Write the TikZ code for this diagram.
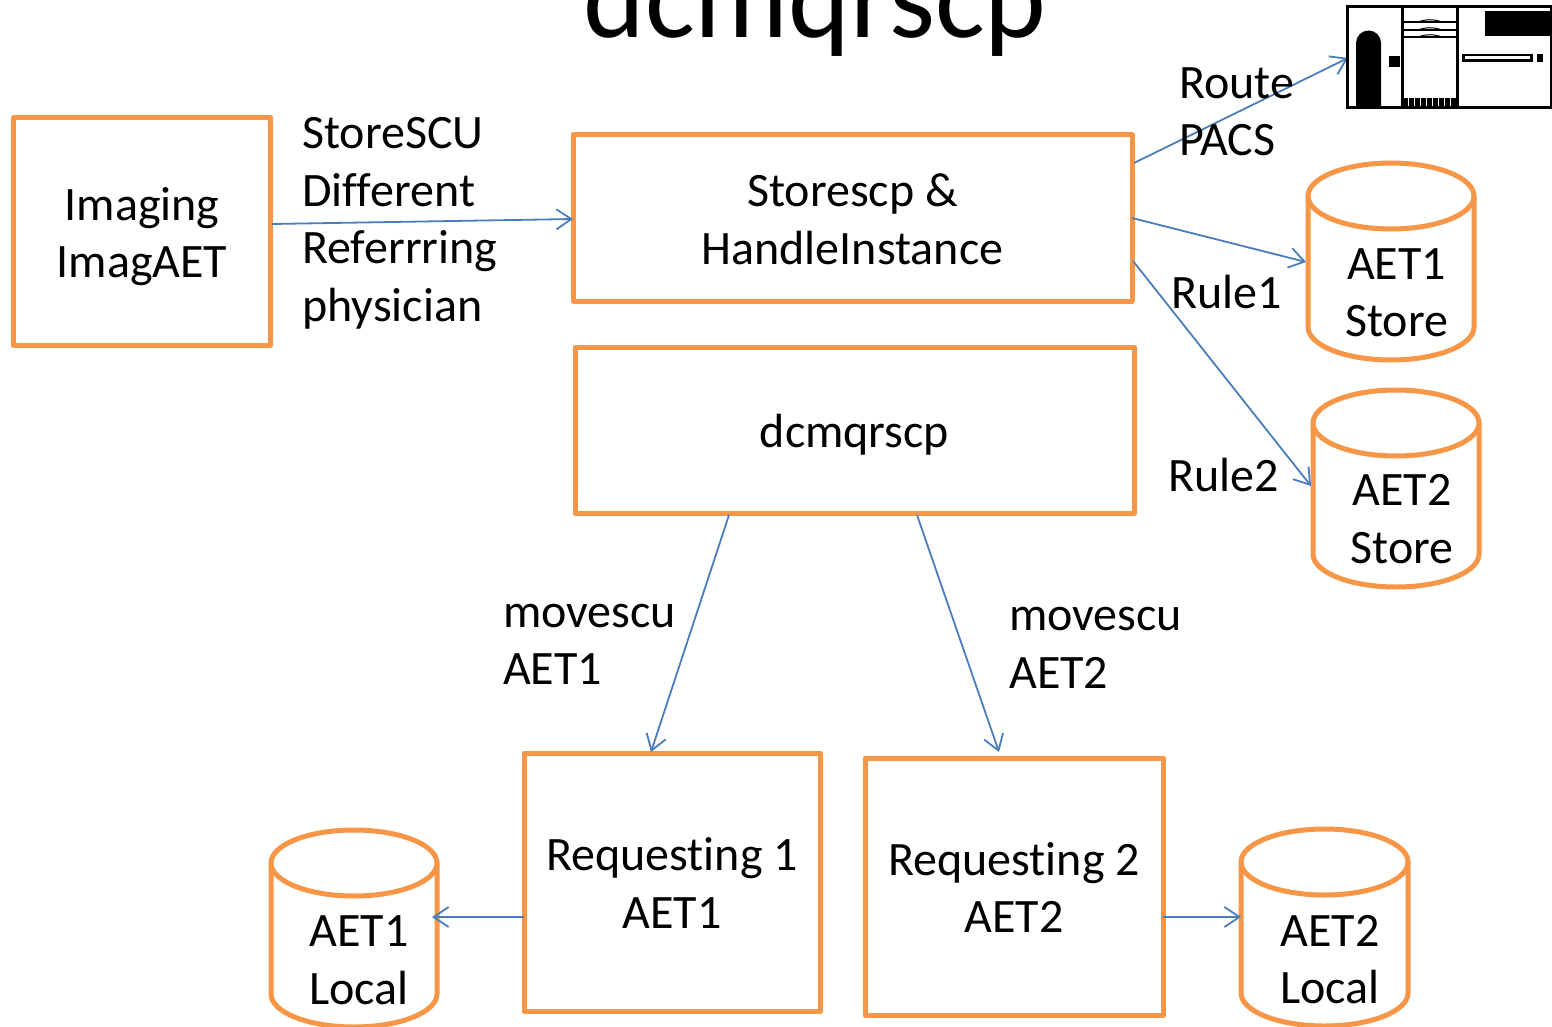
\documentclass[tikz,border=0pt]{standalone}
\usepackage{fontspec}
\setmainfont[Ligatures=NoCommon]{Carlito}
\usetikzlibrary{arrows.meta}
\definecolor{boxorange}{HTML}{F79646}
\definecolor{linkblue}{HTML}{4A7EBB}
\tikzset{
  x=1pt,y=-1pt,
  boxnode/.style={draw=boxorange,line width=5pt,inner sep=0pt,line join=round},
  lbl/.style={align=left,inner sep=0pt,anchor=west,font=\fontsize{48}{57.5}\selectfont},
  ctr/.style={align=center,inner sep=0pt,font=\fontsize{48}{57.5}\selectfont},
  link/.style={draw=linkblue,line width=1.8pt,-{Straight Barb[length=15pt,width=20pt,line width=1.8pt]}},
  cyl/.style={draw=boxorange,line width=5pt,fill=white},
  ic/.style={draw=black,line width=3pt},
}
\newcommand{\dbcyl}[4]{% x1,y1,x2,y2
  \path[cyl] (#1,#2+33) -- (#1,#4-33)
    arc[start angle=180,end angle=0,x radius={(#3-#1)/2},y radius=33]
    -- (#3,#2+33)
    arc[start angle=0,end angle=-180,x radius={(#3-#1)/2},y radius=33] -- cycle;
  \draw[cyl,fill=none] (#1,#2+33) arc[start angle=180,end angle=0,x radius={(#3-#1)/2},y radius=33];
}
\begin{document}
\begin{tikzpicture}
\useasboundingbox (0,0) rectangle (1552,1027);
\clip (0,0) rectangle (1552,1027);
\node[inner sep=0pt,font=\fontsize{117.5}{117.5}\selectfont] (title) at (815,6) {dcmqrscp};

\node[boxnode,minimum width=257pt,minimum height=227pt,label={[ctr,yshift=-5pt]center:{Imaging\\ImagAET}}] (img) at (142,231.5) {};
\node[boxnode,minimum width=559pt,minimum height=166pt,label={[ctr,yshift=-1.5pt]center:{Storescp \&\\HandleInstance}}] (store) at (852.5,218) {};
\node[boxnode,minimum width=559pt,minimum height=166pt,label={[ctr,yshift=-4.5pt]center:{dcmqrscp}}] (qr) at (854.5,430) {};
\node[boxnode,minimum width=296pt,minimum height=258pt,label={[ctr,yshift=-1pt]center:{Requesting 1\\AET1}}] (req1) at (672,882) {};
\node[boxnode,minimum width=298pt,minimum height=257pt,label={[ctr,yshift=-1pt]center:{Requesting 2\\AET2}}] (req2) at (1014,886.5) {};

\dbcyl{1308}{163}{1474}{360}
\dbcyl{1313}{390}{1479}{587}
\dbcyl{271}{830}{437}{1027}
\dbcyl{1241}{829}{1408}{1026}
\node[ctr] (c1) at (1396.5,292.5) {AET1\\Store};
\node[ctr] (c2) at (1402,519) {AET2\\Store};
\node[ctr] (c3) at (359,960) {AET1\\Local};
\node[ctr] (c4) at (1330,959.5) {AET2\\Local};

\coordinate (p1) at (1348,58);
\coordinate (e1) at (1306,262);
\coordinate (e2) at (1311,486);
\coordinate (e3) at (651,752);
\coordinate (e4) at (999,752);
\coordinate (e5) at (432,917);
\coordinate (e6) at (1241,917);
\coordinate (s0) at (272,224);
\coordinate (s1) at (573,219);
\coordinate (s2) at (1134,163);
\coordinate (s3) at (1132,218);
\coordinate (s4) at (1133,261);
\coordinate (s5) at (729,515);
\coordinate (s6) at (917,515);
\coordinate (s7) at (524,917);
\coordinate (s8) at (1163,917);

\draw[link] (s0) -- (s1);
\draw[link] (s2) -- (p1);
\draw[link] (s3) -- (e1);
\draw[link] (s4) -- (e2);
\draw[link] (s5) -- (e3);
\draw[link] (s6) -- (e4);
\draw[link] (s7) -- (e5);
\draw[link] (s8) -- (e6);

\node[lbl] (l1) at (302,223.5) {StoreSCU\\Different\\Referrring\\physician};
\node[lbl] (l2) at (1179,112) {Route\\PACS};
\node[lbl] (l3) at (1171,292) {Rule1};
\node[lbl] (l4) at (1168,475) {Rule2};
\node[lbl] (l5) at (503,644.5) {movescu\\AET1};
\node[lbl] (l6) at (1009,648) {movescu\\AET2};

% PC icon
\draw[ic,fill=white] (1347,7) rectangle (1551,108);
\draw[ic] (1402,7) -- (1402,108) (1457,7) -- (1457,108);
\fill (1356,108) -- (1356,43) arc[start angle=180,end angle=360,radius=12.5] -- (1381,108) -- cycle;
\fill (1389,56) rectangle (1400,67);
\fill (1485,11) rectangle (1550,36);
\fill (1462,54) rectangle (1533,62);
\fill[white] (1465,56.5) rectangle (1530,59.5);
\fill (1537,54) rectangle (1543,62);
\draw[black,line width=2pt] (1402,22) -- (1457,22) (1402,30) -- (1457,30) (1402,37) -- (1457,37);
\draw[black,line width=1pt] (1418,22) .. controls (1426,19) and (1434,19) .. (1442,22)
  (1418,30) .. controls (1426,27) and (1434,27) .. (1442,30)
  (1418,37) .. controls (1426,34) and (1434,34) .. (1442,37);
\draw[black,line width=8pt,dash pattern=on 5pt off 1pt] (1403,102) -- (1456,102);
\end{tikzpicture}
\end{document}
